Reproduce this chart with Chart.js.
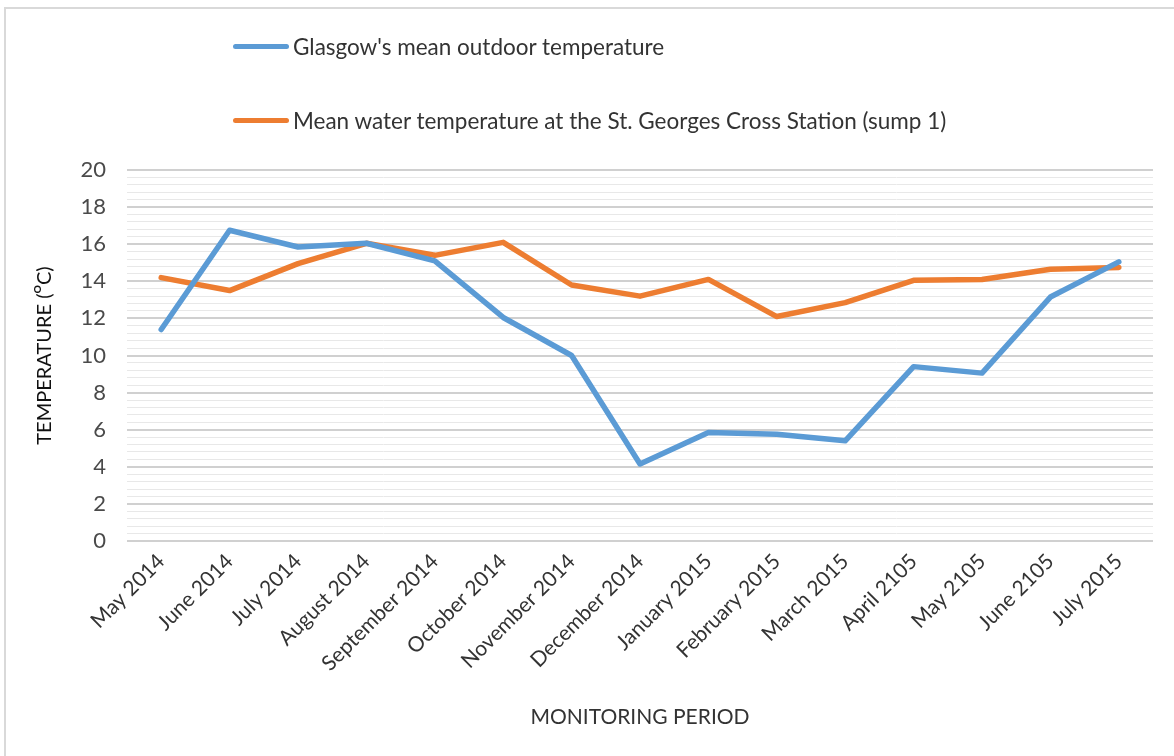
<!DOCTYPE html>
<html>
<head>
<meta charset="utf-8">
<script src="https://cdn.jsdelivr.net/npm/chart.js@4/dist/chart.umd.min.js"></script>
<style>
  html, body { margin: 0; padding: 0; background: #fff; }
  #wrap { position: relative; width: 1174px; height: 756px; overflow: hidden; }
  #frame { position: absolute; left: 4px; top: 7px; width: 1200px; height: 800px;
           border-left: 2px solid #d9d9d9; border-top: 2px solid #d9d9d9; }
  #chart { position: absolute; left: 0; top: 0; }
  .leg { position: absolute; left: 233px; height: 26px; font-family: Lato, sans-serif;
         font-size: 22.5px; color: #333333; white-space: nowrap; }
  .leg .sw { position: absolute; left: 0; top: 10px; width: 56px; height: 5px; border-radius: 3px; }
  .leg .tx { position: absolute; left: 60px; top: 0; line-height: 26px; }
</style>
</head>
<body>
<div id="wrap">
  <div id="frame"></div>
  <canvas id="chart" width="1174" height="756"></canvas>
  <div class="leg" id="leg1" style="top:34px"><span class="sw" style="background:#5b9bd5"></span><span class="tx"></span></div>
  <div class="leg" id="leg2" style="top:108px"><span class="sw" style="background:#ed7d31"></span><span class="tx"></span></div>
</div>
<script>
const categories = ["May 2014","June 2014","July 2014","August 2014","September 2014","October 2014","November 2014","December 2014","January 2015","February 2015","March 2015","April 2105","May 2105","June 2105","July 2015"];
const seriesNames = ["Glasgow's mean outdoor temperature", "Mean water temperature at the St. Georges Cross Station (sump 1)"];
const outdoorTemp = [11.4, 16.75, 15.85, 16.05, 15.1, 12.05, 10.0, 4.15, 5.85, 5.75, 5.4, 9.4, 9.05, 13.15, 15.05];
const waterTemp = [14.2, 13.5, 14.95, 16.05, 15.4, 16.1, 13.8, 13.2, 14.1, 12.1, 12.85, 14.05, 14.1, 14.65, 14.75];
const yMin = 0, yMax = 20, yMajorStep = 2, yMinorStep = 0.4;
const yTitle = "TEMPERATURE (\u1D3CC)";
const xTitle = "MONITORING PERIOD";
const colors = ["#5b9bd5", "#ed7d31"];

document.querySelector('#leg1 .tx').textContent = seriesNames[0];
document.querySelector('#leg2 .tx').textContent = seriesNames[1];

const isMajor = v => Math.round(v * 10) % Math.round(yMajorStep * 10) === 0;

new Chart(document.getElementById('chart'), {
  type: 'line',
  data: {
    labels: categories,
    datasets: [
      { label: seriesNames[0], data: outdoorTemp, borderColor: colors[0], backgroundColor: colors[0],
        borderWidth: 5.5, pointRadius: 0, tension: 0, borderJoinStyle: 'round', borderCapStyle: 'round' },
      { label: seriesNames[1], data: waterTemp, borderColor: colors[1], backgroundColor: colors[1],
        borderWidth: 5.5, pointRadius: 0, tension: 0, borderJoinStyle: 'round', borderCapStyle: 'round' }
    ]
  },
  options: {
    responsive: false,
    animation: false,
    layout: { padding: { left: 29, right: 21, top: 170, bottom: 22 } },
    plugins: { legend: { display: false }, tooltip: { enabled: false } },
    scales: {
      x: {
        offset: true,
        grid: { display: false, drawTicks: false },
        border: { display: false },
        ticks: { minRotation: 45, maxRotation: 45, autoSkip: false, padding: 8,
                 color: '#333333', font: { family: 'Lato', size: 21 } },
        title: { display: true, text: xTitle, color: '#333333', font: { family: 'Lato', size: 21 },
                 padding: { top: 4, bottom: 4 } },
        afterFit: s => { s.height = 193; }
      },
      y: {
        min: yMin, max: yMax,
        grid: {
          drawTicks: false,
          color: ctx => isMajor(ctx.tick.value) ? '#d0d0d0' : '#e8e8e8',
          lineWidth: ctx => isMajor(ctx.tick.value) ? 2 : 1
        },
        border: { display: false },
        ticks: { stepSize: yMinorStep, autoSkip: false, padding: 21, color: '#4a4a4a',
                 font: { family: 'Lato', size: 22 },
                 callback: v => isMajor(v) ? String(Math.round(v)) : '' },
        title: { display: true, text: yTitle, color: '#111111', font: { family: 'Lato', size: 20 },
                 padding: { top: 4, bottom: 4 } },
        afterFit: s => { s.width = 98; }
      }
    }
  }
});
</script>
</body>
</html>
